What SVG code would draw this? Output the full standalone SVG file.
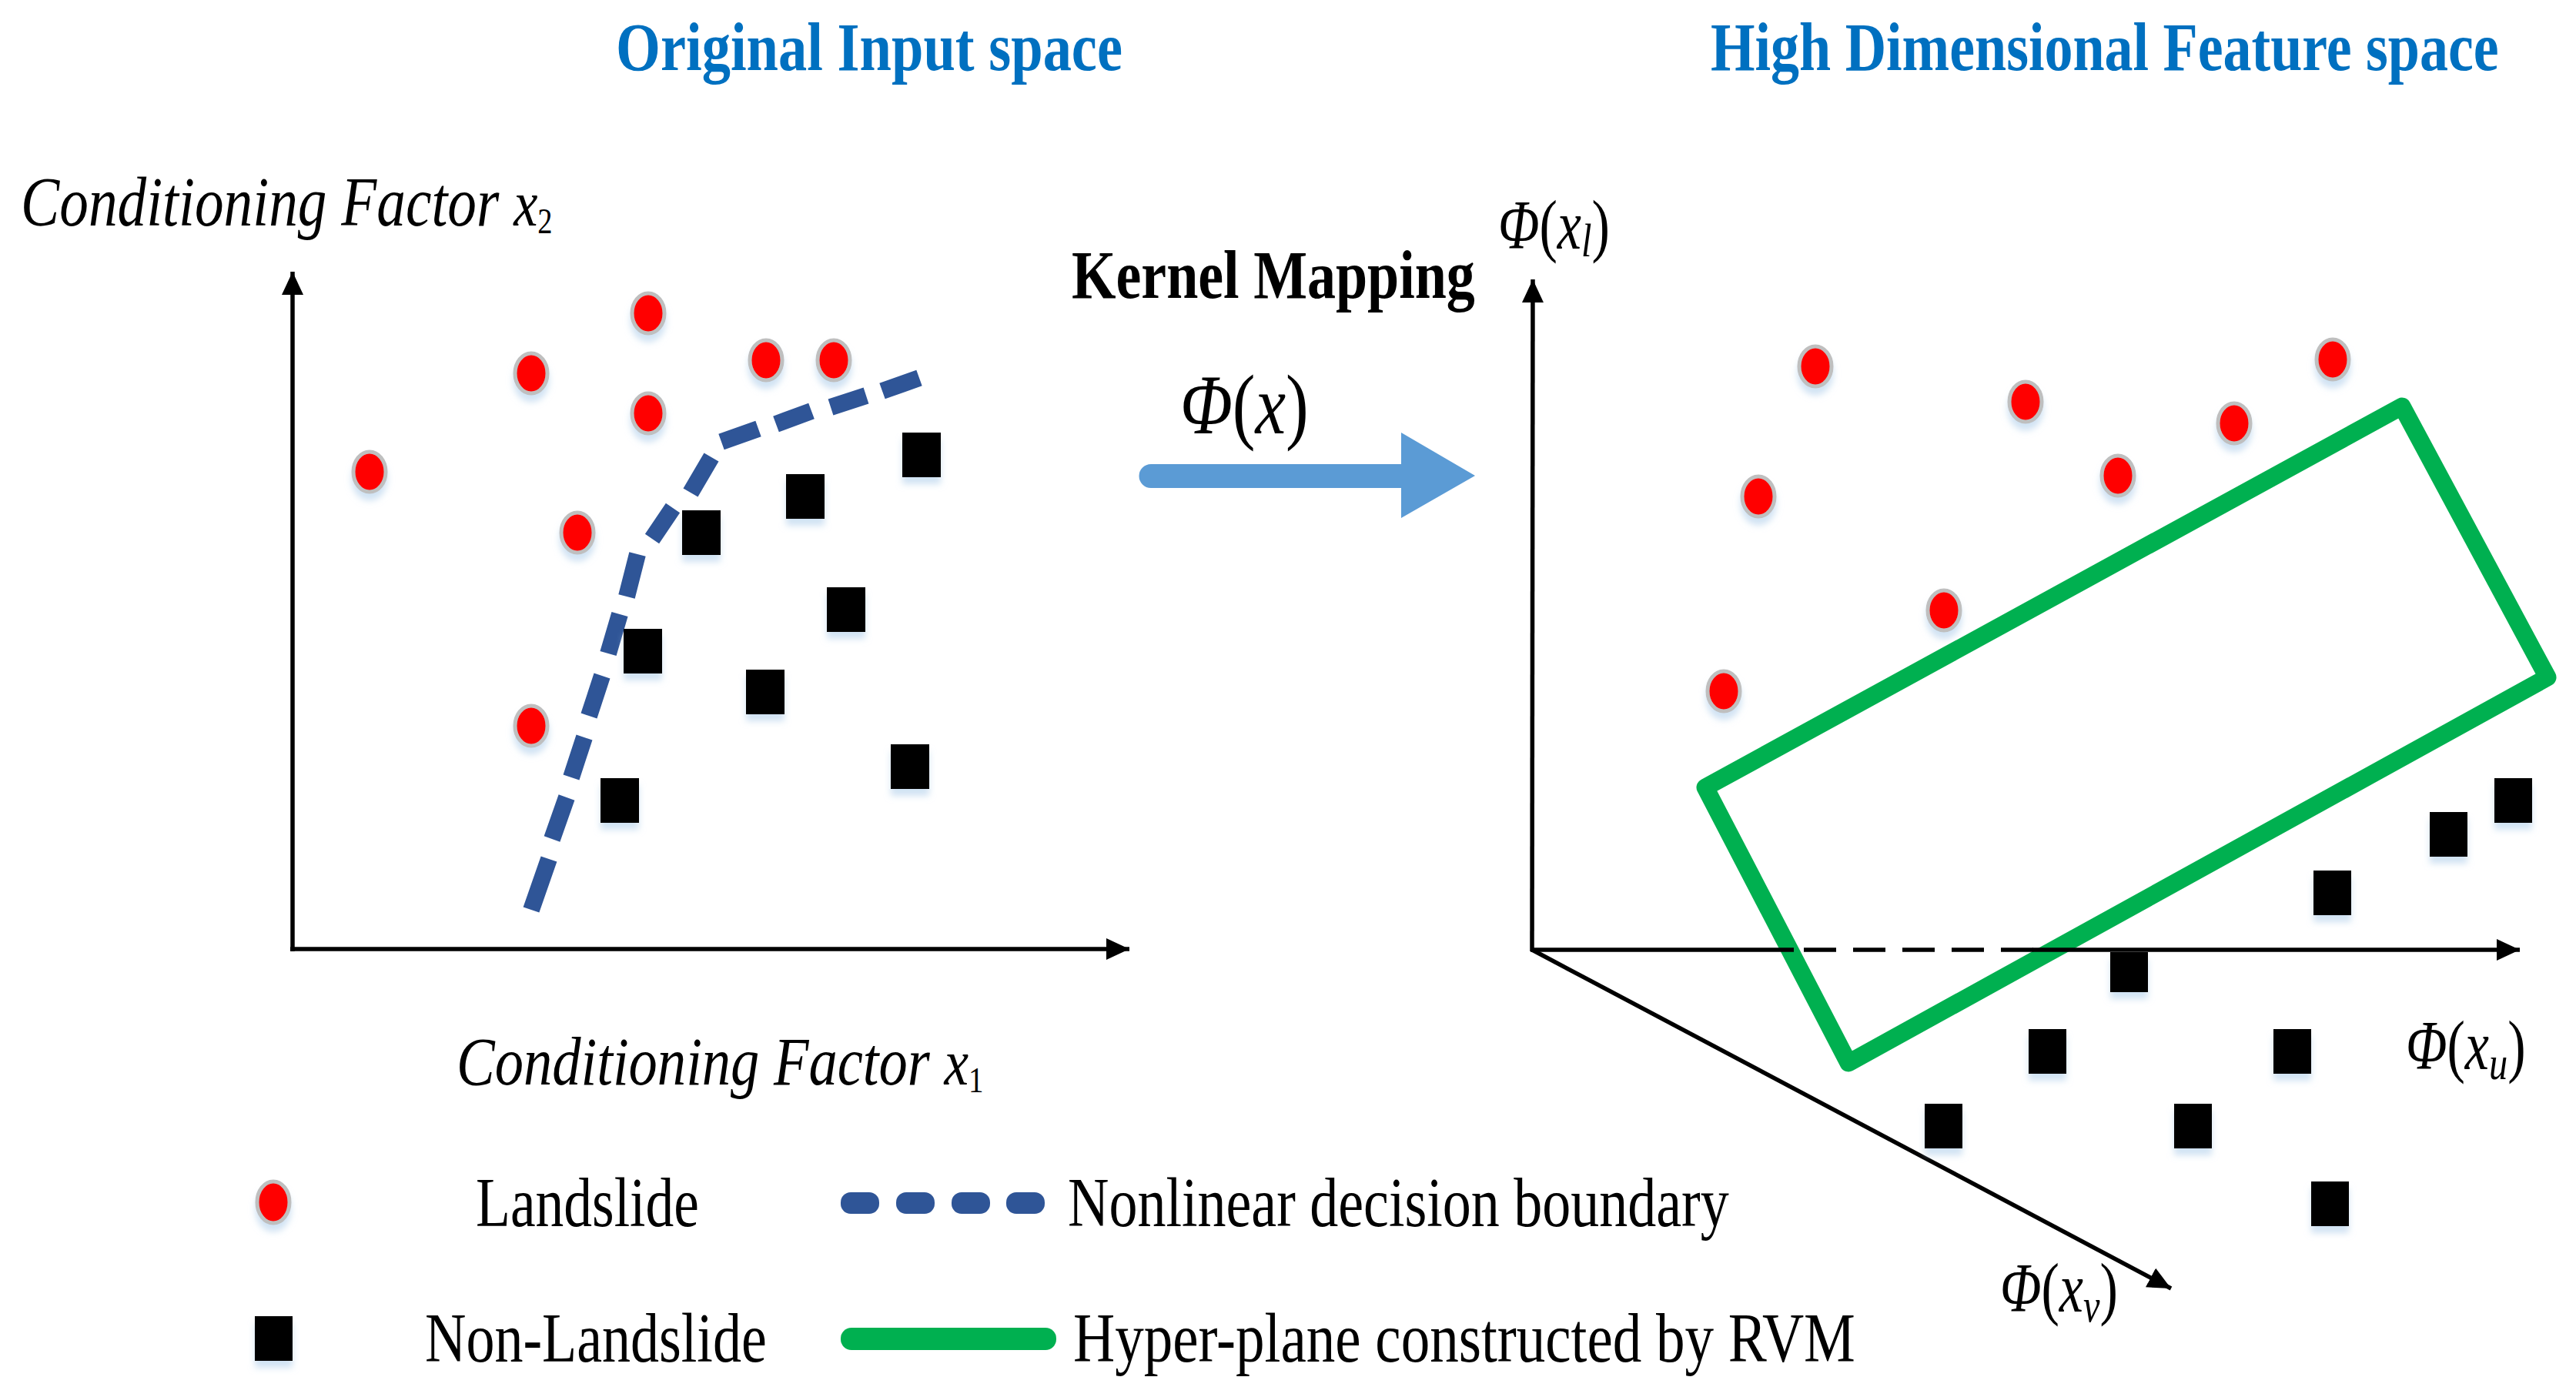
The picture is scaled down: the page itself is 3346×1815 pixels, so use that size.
<svg xmlns="http://www.w3.org/2000/svg" width="3346" height="1815" viewBox="0 0 3346 1815">
<defs>
<style>
.t{font-family:"Liberation Serif","Times New Roman",serif;fill:#000}
.title{font-weight:bold;font-size:89px;fill:#0070C0}
.bold{font-weight:bold;font-size:89px}
.it{font-style:italic}
.up{font-style:normal}
.leg{font-size:90px}
.ls{fill:#FF0000;stroke:#BFBFBF;stroke-width:5}
.nl{fill:#000}
.axis{stroke:#000;stroke-width:5.5;fill:none}
.bnd{stroke:#2F5597;stroke-width:22;fill:none;stroke-linecap:butt}
.hp{stroke:#00B050;stroke-width:23;fill:none;stroke-linejoin:round}
</style>
<filter id="sh" x="-60%" y="-40%" width="220%" height="200%">
<feDropShadow dx="0" dy="9" stdDeviation="4" flood-color="#BDD7EE" flood-opacity="0.7"/>
</filter>
<marker id="ah" viewBox="0 0 30 28" refX="30" refY="14" markerWidth="30" markerHeight="28" markerUnits="userSpaceOnUse" orient="auto">
<path d="M0,0 L30,14 L0,28 Z" fill="#000"/>
</marker>
</defs>
<rect width="3346" height="1815" fill="#fff"/>

<g id="titles">
<text class="t title" transform="translate(800,91) scale(0.837,1)">Original Input space</text>
<text class="t title" transform="translate(2222,91) scale(0.831,1)">High Dimensional Feature space</text>
</g>

<g id="left-panel">
<g id="left-axes">
<line class="axis" x1="380" y1="1236" x2="380" y2="353" marker-end="url(#ah)"/>
<line class="axis" x1="377" y1="1233" x2="1467" y2="1233" marker-end="url(#ah)"/>
<text class="t it" transform="translate(27,293) scale(0.837,1)" font-size="90">Conditioning Factor <tspan font-size="84">x</tspan><tspan dy="10" font-size="46" class="up">2</tspan></text>
<text class="t it" transform="translate(593,1409) scale(0.847,1)" font-size="88">Conditioning Factor <tspan font-size="84">x</tspan><tspan dy="10" font-size="46" class="up">1</tspan></text>
</g>
<g id="left-boundary">
<path class="bnd" d="M690,1182 L713,1116 M717,1090 L736,1036 M742,1010 L759,958 M765,930 L782,878 M790,849 L805,798 M814,775 L828,720 M847,700 L874,660 M897,640 L924,594 M937,574 L985,557 M1008,551 L1054,534 M1079,529 L1125,514 M1146,508 L1194,491"/>
</g>
<g id="left-landslide" filter="url(#sh)">
<ellipse class="ls" cx="842" cy="407" rx="21" ry="26"/>
<ellipse class="ls" cx="690" cy="485" rx="21" ry="26"/>
<ellipse class="ls" cx="995" cy="468" rx="21" ry="26"/>
<ellipse class="ls" cx="1083" cy="468" rx="21" ry="26"/>
<ellipse class="ls" cx="842" cy="537" rx="21" ry="26"/>
<ellipse class="ls" cx="480" cy="613" rx="21" ry="26"/>
<ellipse class="ls" cx="750" cy="692" rx="21" ry="26"/>
<ellipse class="ls" cx="690" cy="943" rx="21" ry="26"/>
</g>
<g id="left-nonlandslide" filter="url(#sh)">
<rect class="nl" x="1172" y="562" width="50" height="58"/>
<rect class="nl" x="1021" y="616" width="50" height="58"/>
<rect class="nl" x="886" y="663" width="50" height="58"/>
<rect class="nl" x="1074" y="763" width="50" height="58"/>
<rect class="nl" x="810" y="817" width="50" height="58"/>
<rect class="nl" x="969" y="870" width="50" height="58"/>
<rect class="nl" x="1157" y="967" width="50" height="58"/>
<rect class="nl" x="780" y="1011" width="50" height="58"/>
</g>
</g>

<g id="mapping">
<text class="t bold" transform="translate(1392,387) scale(0.831,1)">Kernel Mapping</text>
<text class="t it" transform="translate(1533,563) scale(0.81,1)" font-size="110">Φ<tspan class="up">(</tspan>x<tspan class="up">)</tspan></text>
<path id="map-arrow" d="M1495,603 L1820,603 L1820,562 L1916,618 L1820,673 L1820,634 L1495,634 A15.5,15.5 0 0 1 1495,603 Z" fill="#5B9BD5"/>
</g>

<g id="right-panel">
<g id="hyperplane">
<path class="hp" d="M3120,528 L3309,880 L2401,1381 L2215,1023 Z"/>
</g>
<g id="right-axes">
<line class="axis" x1="1990" y1="1236" x2="1991" y2="363" marker-end="url(#ah)"/>
<line class="axis" x1="1988" y1="1234" x2="2330" y2="1234"/>
<line class="axis" x1="2343" y1="1234" x2="2642" y2="1234" stroke-dasharray="42 22"/>
<line class="axis" x1="2640" y1="1234" x2="3273" y2="1234" marker-end="url(#ah)"/>
<line class="axis" x1="1990" y1="1234" x2="2820" y2="1674" marker-end="url(#ah)"/>
<text class="t it" transform="translate(1946,323) scale(0.78,1)" font-size="90">Φ<tspan class="up">(</tspan>x<tspan dy="10" font-size="62">l</tspan><tspan dy="-10" class="up">)</tspan></text>
<text class="t it" transform="translate(3125,1389) scale(0.78,1)" font-size="90">Φ<tspan class="up">(</tspan>x<tspan dy="13" font-size="62">u</tspan><tspan dy="-13" class="up">)</tspan></text>
<text class="t it" transform="translate(2598,1704) scale(0.78,1)" font-size="90">Φ<tspan class="up">(</tspan>x<tspan dy="13" font-size="62">v</tspan><tspan dy="-13" class="up">)</tspan></text>
</g>
<g id="right-landslide" filter="url(#sh)">
<ellipse class="ls" cx="2358" cy="476" rx="21" ry="26"/>
<ellipse class="ls" cx="2631" cy="522" rx="21" ry="26"/>
<ellipse class="ls" cx="3030" cy="467" rx="21" ry="26"/>
<ellipse class="ls" cx="2902" cy="550" rx="21" ry="26"/>
<ellipse class="ls" cx="2751" cy="618" rx="21" ry="26"/>
<ellipse class="ls" cx="2284" cy="645" rx="21" ry="26"/>
<ellipse class="ls" cx="2525" cy="793" rx="21" ry="26"/>
<ellipse class="ls" cx="2239" cy="898" rx="21" ry="26"/>
</g>
<g id="right-nonlandslide" filter="url(#sh)">
<rect class="nl" x="3240" y="1011" width="49" height="58"/>
<rect class="nl" x="3156" y="1055" width="49" height="58"/>
<rect class="nl" x="3005" y="1131" width="49" height="58"/>
<rect class="nl" x="2741" y="1237" width="49" height="52"/>
<rect class="nl" x="2635" y="1337" width="49" height="58"/>
<rect class="nl" x="2953" y="1337" width="49" height="58"/>
<rect class="nl" x="2500" y="1434" width="49" height="58"/>
<rect class="nl" x="2824" y="1434" width="49" height="58"/>
<rect class="nl" x="3002" y="1535" width="49" height="58"/>
</g>
</g>

<g id="legend">
<g id="legend-landslide">
<ellipse class="ls" cx="355" cy="1562" rx="21" ry="27" filter="url(#sh)"/>
<text class="t leg" transform="translate(618,1593) scale(0.817,1)">Landslide</text>
</g>
<g id="legend-boundary">
<rect x="1092" y="1549" width="50" height="28" rx="13" fill="#2F5597"/>
<rect x="1164" y="1549" width="50" height="28" rx="13" fill="#2F5597"/>
<rect x="1236" y="1549" width="50" height="28" rx="13" fill="#2F5597"/>
<rect x="1307" y="1549" width="50" height="28" rx="13" fill="#2F5597"/>
<text class="t leg" transform="translate(1387,1593) scale(0.822,1)">Nonlinear decision boundary</text>
</g>
<g id="legend-nonlandslide">
<rect class="nl" x="331" y="1710" width="49" height="58" filter="url(#sh)"/>
<text class="t leg" transform="translate(552,1769) scale(0.822,1)">Non-Landslide</text>
</g>
<g id="legend-hyperplane">
<rect x="1092" y="1725" width="280" height="29" rx="14" fill="#00B050"/>
<text class="t leg" transform="translate(1394,1769) scale(0.834,1)">Hyper-plane constructed by RVM</text>
</g>
</g>
</svg>
